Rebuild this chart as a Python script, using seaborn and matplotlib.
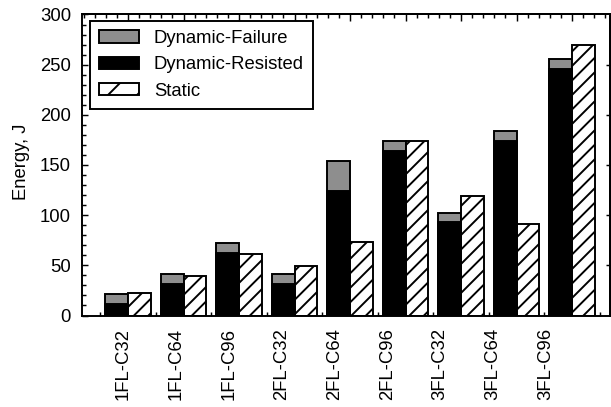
import numpy as np
import pandas as pd
import matplotlib
matplotlib.use('Agg')
import matplotlib.pyplot as plt
import seaborn as sns
from matplotlib.patches import Patch
from matplotlib.ticker import MultipleLocator

categories = ['1FL-C32', '1FL-C64', '1FL-C96', '2FL-C32', '2FL-C64',
              '2FL-C96', '3FL-C32', '3FL-C64', '3FL-C96']
dynamic_total = [21, 41, 72, 41, 154, 174, 102, 184, 256]
dynamic_resisted = [11, 31, 62, 31, 124, 164, 93, 174, 246]
static = [22, 39, 61, 49, 73, 174, 119, 91, 270]
series_names = ['Dynamic-Failure', 'Dynamic-Resisted', 'Static']
y_ticks = [0, 50, 100, 150, 200, 250, 300]

DPI = 174
FS = 7.65
LW = 0.8
GRAY = '#8e8e8e'
HATCH = '////'

sns.set_theme(style='ticks')
plt.rcParams['font.family'] = ['Liberation Sans', 'DejaVu Sans']
plt.rcParams['hatch.linewidth'] = 0.8
plt.rcParams['hatch.color'] = 'black'
plt.rcParams['text.color'] = 'black'
plt.rcParams['axes.labelcolor'] = 'black'
plt.rcParams['xtick.color'] = 'black'
plt.rcParams['ytick.color'] = 'black'

fig = plt.figure(figsize=(611 / DPI, 407 / DPI), dpi=DPI)
ax = fig.add_axes([0.1342, 0.2248, 0.8642, 0.7396])

df_top = pd.DataFrame({
    'cat': categories * 2,
    'kind': ['Dynamic'] * len(categories) + ['Static'] * len(categories),
    'value': dynamic_total + static,
})
sns.barplot(data=df_top, x='cat', y='value', hue='kind', order=categories,
            hue_order=['Dynamic', 'Static'],
            palette={'Dynamic': GRAY, 'Static': 'white'},
            width=0.82, dodge=True, saturation=1, edgecolor='black',
            linewidth=LW, errorbar=None, legend=False, ax=ax)
for bar in ax.containers[1]:
    bar.set_hatch(HATCH)

df_res = pd.DataFrame({
    'cat': categories,
    'kind': ['Dynamic'] * len(categories),
    'value': dynamic_resisted,
})
sns.barplot(data=df_res, x='cat', y='value', hue='kind', order=categories,
            hue_order=['Dynamic', 'Static'],
            palette={'Dynamic': 'black', 'Static': 'white'},
            width=0.82, dodge=True, saturation=1, edgecolor='black',
            linewidth=LW, errorbar=None, legend=False, ax=ax)

n = len(categories)
ax.set_xlim(-0.83, 8.685)
ax.set_ylim(0, 300)

# tick-label positions as they appear in the reference (slightly compressed)
label_pos = np.arange(n) * 0.952 - 0.09
ax.set_xticks(label_pos, categories, rotation=90)
ax.tick_params(axis='x', which='major', length=0, pad=5.2, labelsize=FS)
ax.set_xticks(np.arange(n + 1) - 0.5, minor=True)
ax.tick_params(axis='x', which='minor', direction='in', length=1.7,
               width=0.6, bottom=True)

ax.set_yticks(y_ticks)
ax.yaxis.set_minor_locator(MultipleLocator(10))
ax.tick_params(axis='y', which='major', direction='in', length=2.6,
               width=0.6, pad=4.5, labelsize=FS, left=True)
ax.tick_params(axis='y', which='minor', direction='in', length=1.7,
               width=0.6, left=True)

sec = ax.secondary_xaxis('top')
sec.set_xticks(np.arange(n))
sec.set_xticklabels([])
sec.xaxis.set_minor_locator(MultipleLocator(0.2))
sec.tick_params(which='major', direction='in', length=2.8, width=0.6)
sec.tick_params(which='minor', direction='in', length=1.7, width=0.6)
sec.spines['top'].set_linewidth(LW)
sec.spines['top'].set_color('black')

secr = ax.secondary_yaxis('right')
secr.set_yticks(y_ticks[1:-1])
secr.set_yticklabels([])
secr.tick_params(which='major', direction='in', length=1.7, width=0.6)
secr.spines['right'].set_linewidth(LW)
secr.spines['right'].set_color('black')

for s in ax.spines.values():
    s.set_linewidth(LW)
    s.set_color('black')

ax.set_xlabel('')
ax.set_ylabel('Energy, J', fontsize=FS)
ax.yaxis.set_label_coords(-0.098, 0.51)

handles = [
    Patch(facecolor=GRAY, edgecolor='black', linewidth=LW),
    Patch(facecolor='black', edgecolor='black', linewidth=LW),
    Patch(facecolor='white', edgecolor='black', linewidth=LW, hatch='//'),
]
leg = ax.legend(handles, series_names, loc='upper left',
                bbox_to_anchor=(0.015, 0.979), borderaxespad=0,
                fontsize=FS, handlelength=2.16, handleheight=0.65,
                handletextpad=0.8, borderpad=0.5, labelspacing=0.5,
                fancybox=False, framealpha=1, edgecolor='black')
leg.get_frame().set_linewidth(LW)

fig.savefig('out.png', dpi=DPI)
